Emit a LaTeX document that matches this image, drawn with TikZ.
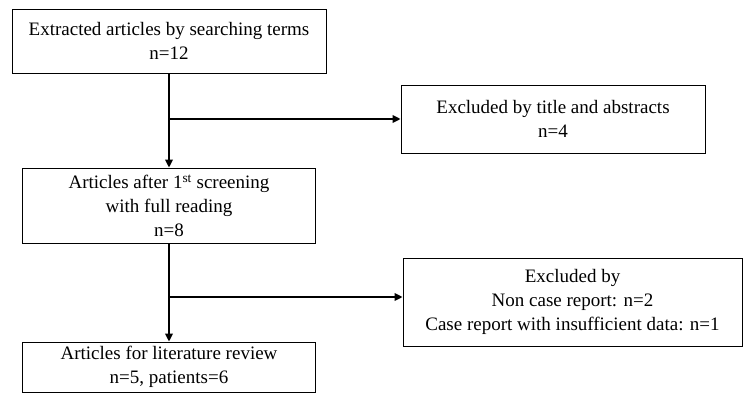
\documentclass[tikz,border=0pt]{standalone}
\usepackage{fontspec}
\setmainfont{Liberation Serif}
\usetikzlibrary{arrows.meta}
\tikzset{box/.style={draw,line width=0.8pt,align=center,inner sep=0pt,font=\fontsize{19}{24}\selectfont},
	flow/.style={line width=1.9pt,-{Triangle[length=8pt,width=7.5pt]}}}
\begin{document}
\begin{tikzpicture}[x=1pt,y=-1pt]
		\useasboundingbox (0,0) rectangle (743,393);
		\node[box,name=found,minimum width=314pt,minimum height=64pt] at (169,41){Extracted articles by searching terms\\n=12};
		\node[box,name=excl1,minimum width=304pt,minimum height=68pt] at (553,119){Excluded by title and abstracts\\n=4};
		\node[box,name=screen,minimum width=293pt,minimum height=75pt] at (169,205.5){Articles after 1\textsuperscript{st} screening\\with full reading\\n=8};
		\node[box,name=excl2,minimum width=339pt,minimum height=88pt] at (572.5,302){Excluded by\\Non case report: n=2\\Case report with insufficient data: n=1};
		\node[box,name=review,minimum width=293pt,minimum height=50pt] at (169,367){Articles for literature review\\n=5, patients=6};
		\coordinate (b1) at (169,119);
		\coordinate (b2) at (169,297);
		\draw[flow] (found)--(screen);
		\draw[flow] (b1)--(excl1);
		\draw[flow] (screen)--(review);
		\draw[flow] (b2)--(b2-|excl2.west);
	\end{tikzpicture}
\end{document}
